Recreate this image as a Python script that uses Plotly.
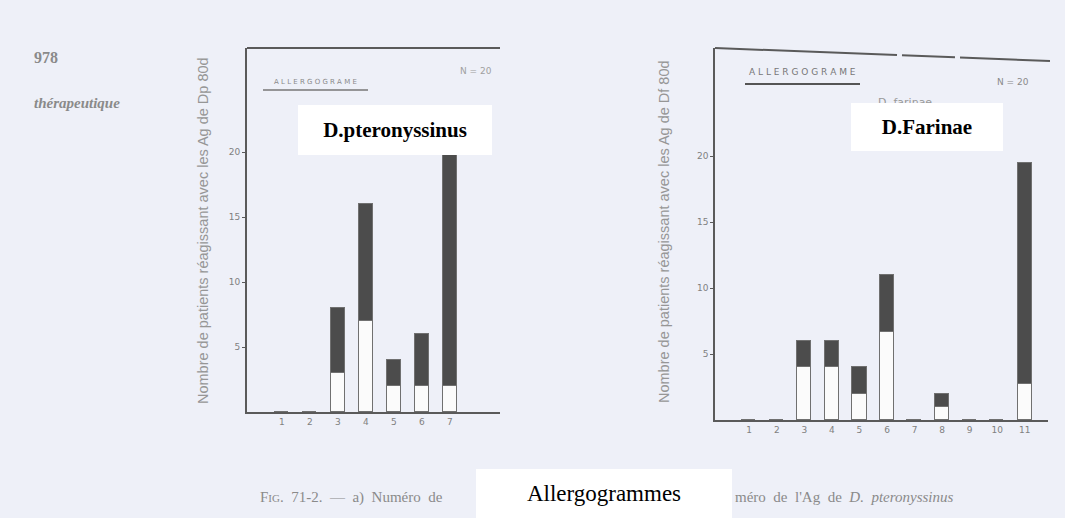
import plotly.graph_objects as go

# ---------------- data ----------------
cats_dp = [1, 2, 3, 4, 5, 6, 7]
dp_white = [0, 0, 3, 7, 2, 2, 2]          # lower (white) part
dp_total = [0, 0, 8, 16, 4, 6, 20]        # total bar height

cats_df = [1, 2, 3, 4, 5, 6, 7, 8, 9, 10, 11]
df_white = [0, 0, 4, 4, 2, 6.7, 0, 1, 0, 0, 2.7]
df_total = [0, 0, 6, 6, 4, 11, 0, 2, 0, 0, 19.5]

y_ticks = [5, 10, 15, 20]
y_ticktext = ["5", "10", "15", "20"]

dp_dark = [t - w for t, w in zip(dp_total, dp_white)]
df_dark = [t - w for t, w in zip(df_total, df_white)]

# ---------------- layout helpers ----------------
W, H = 1065, 518
BG = "#eef0f8"
GRAY = "#808080"
AX = "#5a5a5a"


def px(x):
    return x / W


def py(y):
    return 1 - y / H


fig = go.Figure()

bar_w = 0.52
line_style = dict(color="#707070", width=1.3)

fig.add_trace(go.Bar(x=cats_dp, y=dp_white, width=bar_w, marker=dict(color="#fbfbfb", line=line_style),
                     xaxis="x", yaxis="y", showlegend=False))
fig.add_trace(go.Bar(x=cats_dp, y=dp_dark, width=bar_w, marker=dict(color="#4c4c4c", line=line_style),
                     xaxis="x", yaxis="y", showlegend=False))
fig.add_trace(go.Bar(x=cats_df, y=df_white, width=bar_w, marker=dict(color="#fbfbfb", line=line_style),
                     xaxis="x2", yaxis="y2", showlegend=False))
fig.add_trace(go.Bar(x=cats_df, y=df_dark, width=bar_w, marker=dict(color="#4c4c4c", line=line_style),
                     xaxis="x2", yaxis="y2", showlegend=False))

tickfont = dict(family="DejaVu Sans", size=9, color=GRAY)

fig.update_layout(
    width=W, height=H,
    margin=dict(l=0, r=0, t=0, b=0),
    paper_bgcolor=BG, plot_bgcolor=BG,
    barmode="stack", bargap=0,
    showlegend=False,
    xaxis=dict(domain=[px(247), px(500)], range=[-0.25, 8.79], anchor="y",
               tickvals=cats_dp, ticktext=[str(c) for c in cats_dp], ticks="",
               showline=True, linecolor=AX, linewidth=2, showgrid=False, zeroline=False,
               tickfont=tickfont, fixedrange=True),
    yaxis=dict(domain=[py(412), py(48)], range=[0, 28], anchor="x",
               tickvals=y_ticks, ticktext=y_ticktext, ticks="outside", ticklen=3, tickcolor=AX,
               showline=True, linecolor=AX, linewidth=2, showgrid=False, zeroline=False,
               tickfont=tickfont, fixedrange=True),
    xaxis2=dict(domain=[px(715), px(1048)], range=[-0.24, 11.84], anchor="y2",
                tickvals=cats_df, ticktext=[str(c) for c in cats_df], ticks="",
                showline=True, linecolor=AX, linewidth=1.6, showgrid=False, zeroline=False,
                tickfont=tickfont, fixedrange=True),
    yaxis2=dict(domain=[py(420), py(48)], range=[0, 28.2], anchor="x2",
                tickvals=y_ticks, ticktext=y_ticktext, ticks="outside", ticklen=3, tickcolor=AX,
                showline=True, linecolor=AX, linewidth=1.6, showgrid=False, zeroline=False,
                tickfont=tickfont, fixedrange=True),
)

shapes = []
# top frame of left chart
shapes.append(dict(type="line", xref="paper", yref="paper", x0=px(247), y0=py(48), x1=px(500), y1=py(48),
                   line=dict(color=AX, width=2)))


# tilted, broken top frame of right chart
def ty(x):
    return 48 + (x - 715) * 13 / 335


for a, b in [(715, 897), (902, 955), (960, 1050)]:
    shapes.append(dict(type="line", xref="paper", yref="paper", x0=px(a), y0=py(ty(a)), x1=px(b), y1=py(ty(b)),
                       line=dict(color=AX, width=2)))
# underlines of "ALLERGOGRAME"
shapes.append(dict(type="line", xref="paper", yref="paper", x0=px(263), y0=py(90), x1=px(368), y1=py(90),
                   line=dict(color="#777", width=1.5)))
shapes.append(dict(type="line", xref="paper", yref="paper", x0=px(745), y0=py(84), x1=px(860), y1=py(84),
                   line=dict(color="#555", width=2)))

annotations = []


def txt(x, y, text, size, color=GRAY, family="DejaVu Sans", xanchor="center", angle=0):
    annotations.append(dict(x=px(x), y=py(y), xref="paper", yref="paper", text=text, showarrow=False,
                            xanchor=xanchor, yanchor="middle", textangle=angle,
                            font=dict(family=family, size=size, color=color)))


def box(x0, y0, x1, y1, text, size, bold=True):
    annotations.append(dict(x=px((x0 + x1) / 2), y=py((y0 + y1) / 2), xref="paper", yref="paper",
                            text=("<b>%s</b>" % text) if bold else text, showarrow=False,
                            xanchor="center", yanchor="middle",
                            width=x1 - x0, height=y1 - y0, align="center", valign="middle",
                            bgcolor="white", borderpad=0, borderwidth=0,
                            font=dict(family="Liberation Serif", size=size, color="black")))


# page header
txt(32, 57, "<b>978</b>", 16, color="#8a8a8a", family="Liberation Serif", xanchor="left")
txt(32, 103, "<b><i>thérapeutique</i></b>", 15, color="#8a8a8a", family="Liberation Serif", xanchor="left")

# y axis titles
txt(203, 230, "Nombre de patients réagissant avec les Ag de Dp 80d", 14.5, color="#969696",
    family="Liberation Sans", angle=-90)
txt(664, 232, "Nombre de patients réagissant avec les Ag de Df 80d", 14.5, color="#969696",
    family="Liberation Sans", angle=-90)

# panel labels
txt(315, 82, "A L L E R G O G R A M E", 7, color="#8a8a8a")
txt(802, 72, "A L L E R G O G R A M E", 9, color="#777")
txt(476, 71, "N = 20", 9, color="#a0a0a0")
txt(1013, 82, "N = 20", 9, color="#8a8a8a")
txt(905, 103, "D. farinae", 11, color="#999")

# caption
txt(258, 497, "F<span style='font-size:11px'>IG</span>.  71-2.  —  a)  Numéro  de", 15, color="#8a8a8a",
    family="Liberation Serif", xanchor="left")
txt(733, 497, "méro  de  l'Ag  de  <i>D.  pteronyssinus</i>", 15, color="#8a8a8a",
    family="Liberation Serif", xanchor="left")

# white label boxes
box(298, 105, 492, 155, "D.pteronyssinus", 21)
box(851, 103, 1003, 151, "D.Farinae", 21)
box(476, 469, 732, 518, "Allergogrammes", 23, bold=False)

fig.update_layout(shapes=shapes, annotations=annotations)

fig.write_html("out.html", config={"displayModeBar": False},
               post_script="document.body.style.margin='0';document.body.style.overflow='hidden';")
